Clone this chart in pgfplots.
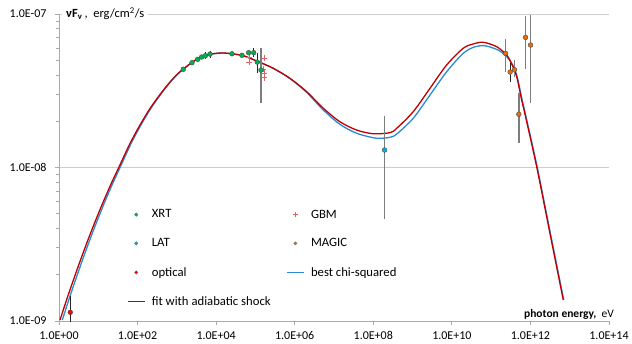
\documentclass[border=0pt]{standalone}
\usepackage{fontspec}
\setmainfont{Carlito}
\usepackage{pgfplots}
\pgfplotsset{compat=1.18}
\definecolor{xrt}{RGB}{0,176,80}
\definecolor{lat}{RGB}{0,176,240}
\definecolor{magic}{RGB}{228,108,10}
\definecolor{gbm}{RGB}{222,100,100}
\definecolor{fitred}{RGB}{192,0,0}
\definecolor{chiblue}{RGB}{40,140,210}
\definecolor{gridc}{RGB}{205,205,205}
\definecolor{axc}{RGB}{170,170,170}
\definecolor{barc}{RGB}{125,125,125}
\begin{document}
\begin{tikzpicture}[x=1pt,y=1pt]
\begin{axis}[
  width=550pt, height=307pt, scale only axis,
  xmode=log, ymode=log,
  xmin=1, xmax=1e14, ymin=1e-9, ymax=1e-7,
  xtick={1,1e2,1e4,1e6,1e8,1e10,1e12,1e14},
  xticklabels={1.0E+00,1.0E+02,1.0E+04,1.0E+06,1.0E+08,1.0E+10,1.0E+12,1.0E+14},
  ytick={1e-9,1e-8,1e-7},
  yticklabels={1.0E-09,1.0E-08,1.0E-07},
  minor xtick={}, minor ytick={},
  axis lines*=left,
  axis line style={axc, line width=0.8pt},
  ymajorgrids, grid style={gridc, line width=0.8pt},
  tick align=outside, major tick length=4pt,
  tick style={axc, line width=0.8pt},
  ticklabel style={font=\fontsize{12}{13}\selectfont, black},
  xticklabel style={yshift=-3pt},
  yticklabel style={xshift=-5pt},
  legend columns=2,
  legend cell align=left,
  legend style={draw=none, fill=none, at={(rel axis cs:0.118,0.376)}, anchor=north west,
    font=\fontsize{12.7}{15}\selectfont, row sep=15pt,
    /tikz/every odd column/.append style={column sep=4.5pt},
    /tikz/every even column/.append style={column sep=13.5pt}},
]
\addlegendimage{legend image code/.code={\fill[xrt, draw=black!60, line width=0.3pt] (8.5pt,0pt) circle (1.7pt);}}
\addlegendentry{XRT}
\addlegendimage{legend image code/.code={\draw[gbm, line width=0.5pt] (6pt,0pt) -- (11pt,0pt) (8.5pt,-2.5pt) -- (8.5pt,2.5pt);}}
\addlegendentry{GBM}
\addlegendimage{legend image code/.code={\fill[lat, draw=black!60, line width=0.3pt] (8.5pt,0pt) circle (1.7pt);}}
\addlegendentry{LAT}
\addlegendimage{legend image code/.code={\fill[magic, draw=black!60, line width=0.3pt] (8.5pt,0pt) circle (1.7pt);}}
\addlegendentry{MAGIC}
\addlegendimage{legend image code/.code={\fill[red, draw=black!60, line width=0.3pt] (8.5pt,0pt) circle (1.7pt);}}
\addlegendentry{optical}
\addlegendimage{legend image code/.code={\draw[line width=1.3pt, color=chiblue] (0pt,0pt) -- (17pt,0pt);}}
\addlegendentry{best chi-squared}

% best chi-squared
\addplot[chiblue, line width=1.3pt, smooth, forget plot] coordinates {
(1.213,1.015e-9) (1.619,1.277e-9) (2.160,1.597e-9) (3.842,2.445e-9) (6.838,3.655e-9)
(12.16,5.317e-9) (21.65,7.543e-9) (38.53,1.041e-8) (68.59,1.434e-8) (122.0,1.892e-8)
(217.2,2.423e-8) (386.3,2.989e-8) (687.6,3.606e-8) (1223,4.207e-8) (3199,5.070e-8) (6966,5.458e-8)
(1.384e4,5.572e-8) (2.489e4,5.508e-8) (4.909e4,5.346e-8) (1.076e5,4.943e-8) (2.851e5,4.426e-8)
(7.586e5,3.793e-8) (2.018e6,3.083e-8) (5.333e6,2.371e-8) (1.419e7,1.910e-8) (3.776e7,1.671e-8)
(1e8,1.563e-8) (1.479e8,1.549e-8) (2.661e8,1.574e-8) (3.936e8,1.652e-8) (1.042e9,2.094e-8)
(2.773e9,2.965e-8) (7.379e9,4.207e-8) (1.950e10,5.546e-8) (3.715e10,6.095e-8) (6.966e10,6.209e-8)
(1.517e11,5.821e-8) (2.483e11,5.272e-8) (3.436e11,4.72e-8) (4.592e11,3.908e-8) (6.152e11,2.754e-8)
(7.447e11,2.234e-8) (1.483e12,1.012e-8) (3.228e12,3.724e-9) (7.047e12,1.371e-9)
};
% fit with adiabatic shock
\addplot[color=fitred, line width=1.3pt, smooth, no marks,
  legend image code/.code={\draw[line width=1.3pt, color=fitred] (0pt,0pt) -- (17pt,0pt);}] coordinates {
(1.060,1.015e-9) (1.421,1.277e-9) (1.905,1.597e-9) (3.424,2.445e-9) (6.152,3.655e-9)
(11.06,5.317e-9) (19.87,7.543e-9) (35.70,1.041e-8) (64.17,1.434e-8) (115.3,1.892e-8)
(207.2,2.423e-8) (372.3,2.989e-8) (669.2,3.606e-8) (1202,4.207e-8) (3199,5.070e-8) (6966,5.458e-8)
(1.384e4,5.572e-8) (2.489e4,5.508e-8) (4.909e4,5.346e-8) (1.076e5,4.943e-8) (2.851e5,4.426e-8)
(7.586e5,3.811e-8) (2.018e6,3.119e-8) (5.333e6,2.432e-8) (1.419e7,1.986e-8) (3.776e7,1.754e-8)
(1e8,1.660e-8) (2.661e8,1.687e-8) (3.936e8,1.799e-8) (1.042e9,2.312e-8) (2.773e9,3.281e-8)
(7.379e9,4.656e-8) (1.950e10,5.984e-8) (3.49e10,6.38e-8) (6.310e10,6.546e-8) (1.384e11,6.124e-8)
(2.483e11,5.408e-8) (3.342e11,4.72e-8) (4.467e11,3.908e-8) (5.984e11,2.754e-8) (7.244e11,2.234e-8)
(1.442e12,1.012e-8) (3.141e12,3.724e-9) (6.855e12,1.371e-9)
};
\addlegendentry{fit with adiabatic shock}
% grey error bars
\addplot[barc, line width=1.6pt, unbounded coords=jump, forget plot] coordinates {
(1.384e5,5.975e-8) (1.384e5,2.62e-8) (1.384e5,nan)
(1.936e8,2.165e-8) (1.936e8,4.597e-9) (1.936e8,nan)
(2.323e11,6.84e-8) (2.323e11,4.21e-8) (2.323e11,nan)
(3.936e11,5.01e-8) (3.936e11,3.91e-8) (3.936e11,nan)
(5.07e11,3.06e-8) (5.07e11,1.45e-8) (5.07e11,nan)
(7.50e11,9.7e-8) (7.50e11,4.37e-8) (7.50e11,nan)
(1.007e12,9.9e-8) (1.007e12,2.62e-8)
};
% black error bars
\addplot[black!85, line width=0.8pt, unbounded coords=jump, forget plot] coordinates {
(5.297e3,5.655e-8) (5.297e3,5.09e-8) (5.297e3,nan)
(6.966e3,5.77e-8) (6.966e3,5.19e-8) (6.966e3,nan)
(9.016e4,6.00e-8) (9.016e4,5.25e-8) (9.016e4,nan)
(1.114e5,5.60e-8) (1.114e5,4.11e-8) (1.114e5,nan)
(3.041e11,4.78e-8) (3.041e11,3.62e-8) (3.041e11,nan)
(1.941,1.46e-9) (1.941,9e-10)
};
% GBM
\addplot[only marks, mark=+, mark size=3.3pt, mark options={gbm, line width=0.6pt}, forget plot] coordinates {
(6.85e4,5.21e-8) (6.85e4,4.87e-8) (1.65e5,5.17e-8) (1.56e5,4.38e-8) (1.65e5,4.09e-8) (1.65e5,3.86e-8)
};
% XRT
\addplot[only marks, mark=*, mark size=2.4pt, mark options={draw=black!70, fill=xrt, line width=0.4pt}, forget plot] coordinates {
(1459,4.365e-8) (2427,4.819e-8) (3388,5.07e-8) (4285,5.248e-8) (5297,5.346e-8) (6966,5.483e-8)
(2.529e4,5.508e-8) (4.550e4,5.383e-8) (6.730e4,5.598e-8) (9.016e4,5.598e-8) (1.114e5,4.864e-8) (1.384e5,4.315e-8)
};
% LAT
\addplot[only marks, mark=*, mark size=2.4pt, mark options={draw=black!70, fill=lat, line width=0.4pt}, forget plot] coordinates {
(1.936e8,1.30e-8)
};
% MAGIC
\addplot[only marks, mark=*, mark size=2.4pt, mark options={draw=black!70, fill=magic, line width=0.4pt}, forget plot] coordinates {
(2.323e11,5.546e-8) (3.041e11,4.188e-8) (3.936e11,4.335e-8) (5.07e11,2.223e-8) (7.50e11,7.047e-8) (1.007e12,6.28e-8)
};
% optical
\addplot[only marks, mark=*, mark size=2.4pt, mark options={draw=black!70, fill=red, line width=0.4pt}, forget plot] coordinates {
(1.941,1.14e-9)
};
\coordinate (ll) at (rel axis cs:0,0);
\coordinate (ur) at (rel axis cs:1,1);
\coordinate (ul) at (rel axis cs:0,1);
\coordinate (lr) at (rel axis cs:1,0);
\end{axis}
\node[anchor=west, fill=white, inner xsep=4pt, inner ysep=1pt, font=\fontsize{12.5}{15}\selectfont] at ([xshift=3pt]ul) {\textbf{νF}\textsubscript{\textbf{ν}}\,,\ \ erg/cm\textsuperscript{2}/s};
\node[anchor=south east, inner sep=1pt, font=\fontsize{11.5}{14}\selectfont] at ([xshift=6pt,yshift=0pt]lr) {\textbf{photon energy,}\ \ eV};
\pgfresetboundingbox
\path ([shift={(-59pt,-22pt)}]ll) rectangle ([shift={(23pt,14pt)}]ur);
\end{tikzpicture}
\end{document}
